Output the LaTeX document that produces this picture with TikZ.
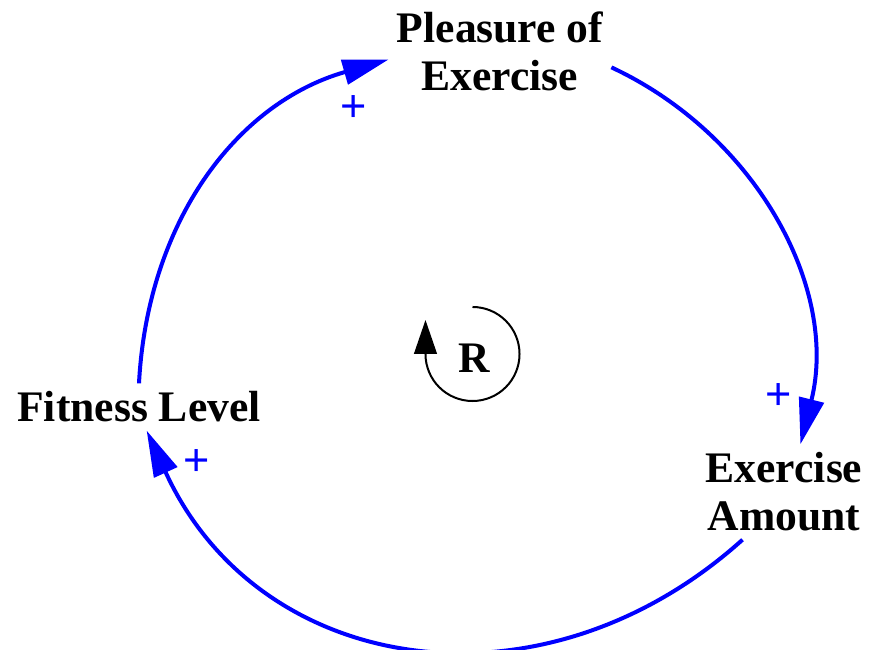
\documentclass[tikz,border=0pt]{standalone}
\usepackage{fontspec}
\setmainfont{Liberation Serif}
\setsansfont{Liberation Sans}
\usetikzlibrary{arrows.meta}
\definecolor{linkblue}{HTML}{0000FF}

\begin{document}
\begin{tikzpicture}[
    x=0.025cm, y=0.025cm,
    every node/.style={align=center},
    varname/.style={font=\fontsize{31}{34.2}\selectfont\bfseries, inner sep=0.2cm},
    polarity/.style={font=\sffamily\fontsize{32}{36}\selectfont, text=linkblue, inner sep=0pt},
    causal/.style={draw=linkblue, line width=0.1cm, -{Triangle[length=1.15cm, width=0.625cm]}},
    loopmark/.style={draw=black, line width=0.05cm, -{Triangle[length=0.85cm, width=0.57cm]}},
]
\useasboundingbox (0,0) rectangle (869,650);

% ================= VARIABLES =================
\node[varname] (pleasure) at (500,598.3) {Pleasure of\\Exercise};
\node[varname] (fitness) at (139,243) {Fitness Level};
\node[varname] (amount) at (784,158) {Exercise\\Amount};

% ================= CAUSAL LINKS =================
\draw[causal] (fitness.north) to[out=87, in=196] (pleasure.184);
\draw[causal] (pleasure.-8) to[out=-25, in=76, looseness=0.97] (amount.71);
\draw[causal] (amount.-131) to[out=222, in=-65.5, looseness=1.14] (fitness.-72);

\node[polarity] (polA) at (354,541) {+};
\node[polarity] (polB) at (779,253) {+};
\node[polarity] (polC) at (197,187) {+};

% ================= LOOP MARKER =================
\coordinate (loopc) at (472.5,296);
\node[varname, inner sep=0pt] (loopR) at (474,291.5) {R};
\draw[loopmark] ([shift={(90:1.175cm)}]loopc) arc[start angle=90, end angle=-180, radius=1.175cm] -- ++(0,0.85cm);

\end{tikzpicture}
\end{document}
